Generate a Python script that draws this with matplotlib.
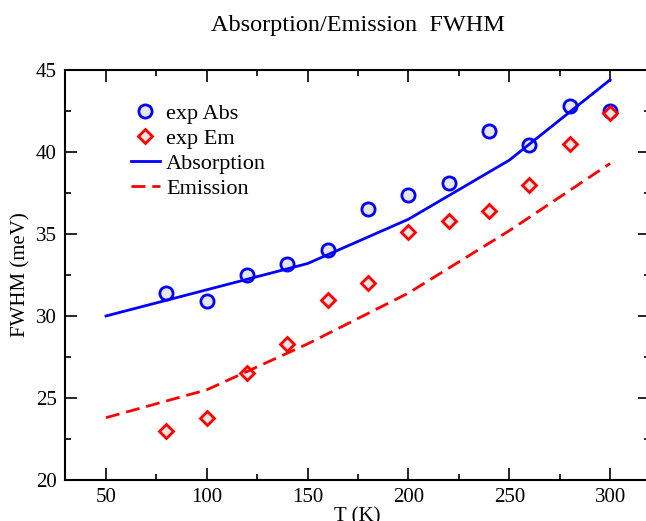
import matplotlib
matplotlib.use("Agg")
import matplotlib.pyplot as plt
from matplotlib.ticker import MultipleLocator

plt.rcParams['font.family'] = ['Liberation Serif', 'DejaVu Serif']
plt.rcParams['lines.scale_dashes'] = False

# data
t_exp = [80, 100, 120, 140, 160, 180, 200, 220, 240, 260, 280, 300]
abs_exp = [31.4, 30.9, 32.5, 33.2, 34.0, 36.5, 37.4, 38.1, 41.3, 40.4, 42.8, 42.5]
em_exp = [23.0, 23.8, 26.5, 28.3, 31.0, 32.0, 35.1, 35.8, 36.4, 38.0, 40.5, 42.4]
t_calc = [50, 100, 150, 200, 250, 300]
abs_calc = [30.0, 31.6, 33.2, 35.9, 39.5, 44.4]
em_calc = [23.8, 25.5, 28.3, 31.4, 35.2, 39.3]

fig = plt.figure(figsize=(6.46, 5.21), dpi=100)
ax = fig.add_axes([65/646, 1-480/521, 585/646, 410/521])

ax.plot(t_exp, abs_exp, linestyle='none', marker='o', markersize=9.5,
        markerfacecolor='#e6e6e6', markeredgecolor='#0000ff', markeredgewidth=2,
        label='exp Abs')
ax.plot(t_exp, em_exp, linestyle='none', marker='D', markersize=7.5,
        markerfacecolor='#e6e6e6', markeredgecolor='#ff0000', markeredgewidth=2,
        label='exp Em')
ax.plot(t_calc, abs_calc, color='#0000ff', linewidth=2, label='Absorption')
ax.plot(t_calc, em_calc, color='#ff0000', linewidth=2, dashes=(10, 5), label='Emission')

ax.set_xlim(29.66, 319.8)
ax.set_ylim(20, 45)
ax.xaxis.set_major_locator(MultipleLocator(50))
ax.xaxis.set_minor_locator(MultipleLocator(25))
ax.yaxis.set_major_locator(MultipleLocator(5))
ax.yaxis.set_minor_locator(MultipleLocator(2.5))
ax.tick_params(which='both', direction='in', top=True, right=True, width=1.2, labelsize=15, pad=6)
ax.tick_params(which='major', length=8.5)
ax.tick_params(which='minor', length=4.3)
for s in ax.spines.values():
    s.set_linewidth(1.5)

ax.set_xlabel('T (K)', fontsize=15, labelpad=0)
ax.set_ylabel('FWHM (meV)', fontsize=15, labelpad=4)
fig.text(358/646, 1-25/521, 'Absorption/Emission  FWHM', ha='center', va='center', fontsize=17.5)

leg = ax.legend(loc='upper left', bbox_to_anchor=(0.097, 0.94), frameon=False, fontsize=16,
                handlelength=1.3, handletextpad=0.3, labelspacing=0.2, borderaxespad=0)

fig.savefig('out.png', dpi=100)
